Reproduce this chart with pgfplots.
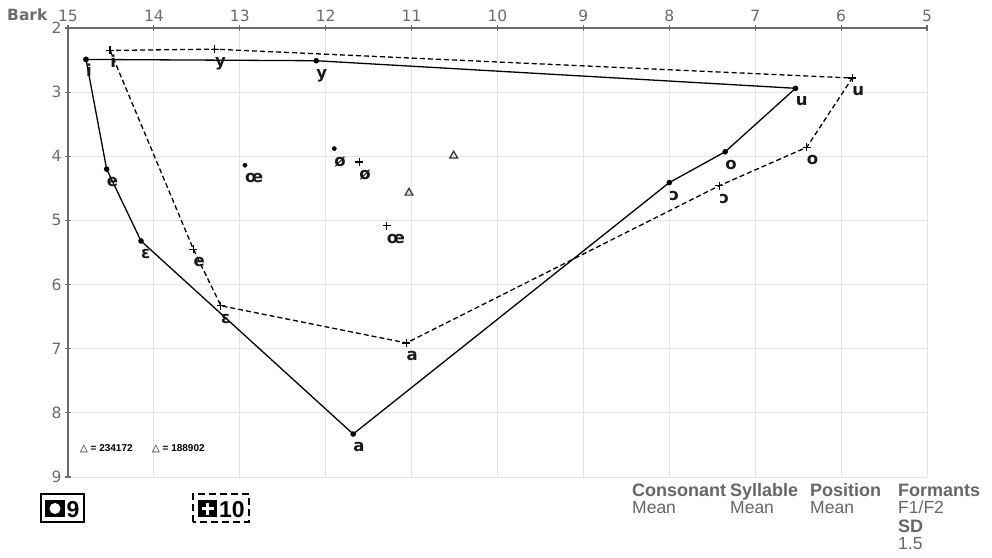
\documentclass[border=0pt]{standalone}
\usepackage{fontspec}
\setmainfont{DejaVu Sans}
\newfontfamily\lib{Liberation Sans}
\usepackage{pgfplots}
\pgfplotsset{compat=1.18}
\definecolor{tickgray}{HTML}{6B6B6B}
\definecolor{txtgray}{HTML}{666666}
\definecolor{gridgray}{HTML}{E4E4E4}
\begin{document}
\begin{tikzpicture}[x=1pt,y=1pt]
\useasboundingbox (0,0) rectangle (992,557);
\begin{axis}[
  at={(68pt,80pt)}, anchor=south west,
  scale only axis, width=859pt, height=449pt,
  x dir=reverse, y dir=reverse,
  xmin=5, xmax=15, ymin=2, ymax=9,
  axis x line*=top, axis y line*=left,
  x axis line style={-, tickgray, line width=1.3pt},
  y axis line style={-, tickgray, line width=1.3pt},
  xtick={5,6,...,15}, ytick={2,3,...,9},
  grid=major, major grid style={gridgray, line width=0.8pt},
  tick align=center, major tick length=6pt,
  tick style={tickgray, line width=1.2pt},
  /pgf/number format/assume math mode=true,
  ticklabel style={font=\fontsize{15.5}{15.5}\selectfont, text=tickgray},
  clip=false,
]
% series 9 (solid)
\addplot[black, line width=1.3pt, mark=*, mark size=2.1pt] table[x=B, y=F] {
B F
14.79 2.49
14.55 4.20
14.15 5.32
11.68 8.33
8.00 4.41
7.35 3.93
6.53 2.94
12.11 2.51
14.79 2.49
};
\addplot[black, only marks, mark=*, mark size=2.1pt] table[x=B, y=F] {
B F
12.94 4.14
11.90 3.88
};
% series 10 (dashed)
\addplot[black, line width=1.3pt, dash pattern=on 5pt off 3pt, mark=+, mark size=4pt, mark options={solid, line width=1.2pt}] table[x=B, y=F] {
B F
14.51 2.35
13.54 5.45
13.22 6.33
11.06 6.91
7.42 4.46
6.40 3.86
5.87 2.78
13.29 2.33
14.51 2.35
};
\addplot[black, only marks, mark=+, mark size=4pt, mark options={line width=1.2pt}] table[x=B, y=F] {
B F
11.61 4.09
11.29 5.08
};
% triangles
\addplot[only marks, mark=triangle*, mark size=4.5pt, mark options={fill=gray!25, draw=black!80, line width=1.2pt}] table[x=B, y=F] {
B F
10.51 3.99
11.03 4.57
};
% labels
\addplot[draw=none, mark=none, nodes near coords, point meta=explicit symbolic,
  nodes near coords style={anchor=base west, inner sep=0pt, yshift=-17.5pt, font=\bfseries\fontsize{16.5}{16.5}\selectfont, text=black!90}]
  table[x=B, y=F, meta=lab] {
B F lab
14.79 2.49 i
14.55 4.20 e
14.15 5.32 ɛ
11.68 8.33 a
8.00 4.41 ɔ
7.35 3.93 o
6.53 2.94 u
12.11 2.51 y
12.94 4.14 œ
11.90 3.88 ø
14.51 2.35 i
13.54 5.45 e
13.22 6.33 ɛ
11.06 6.91 a
7.42 4.46 ɔ
6.40 3.86 o
5.87 2.78 u
13.29 2.33 y
11.61 4.09 ø
11.29 5.08 œ
};
\end{axis}
% Bark label
\node[anchor=base west, inner sep=0pt, font=\bfseries\fontsize{15.5}{15.5}\selectfont, text=tickgray] at (7,536) {Bark};
% triangle legend
\node[anchor=base west, inner sep=0pt, font=\lib\bfseries\fontsize{10}{10}\selectfont] at (80,106) {{\fontspec{DejaVu Sans}\mdseries △} = 234172};
\node[anchor=base west, inner sep=0pt, font=\lib\bfseries\fontsize{10}{10}\selectfont] at (152,106) {{\fontspec{DejaVu Sans}\mdseries △} = 188902};
% legend box 9
\draw[black, line width=2.2pt] (41,35) rectangle (84,63);
\fill[black] (45,40) rectangle (65,57);
\fill[white] (55,48.5) circle (5.5);
\node[anchor=base west, inner sep=0pt, font=\lib\bfseries\fontsize{23}{23}\selectfont] at (66.5,40) {9};
% legend box 10
\draw[black, line width=2.2pt, dash pattern=on 7pt off 4pt] (193,35) rectangle (249,63);
\fill[black] (198,40) rectangle (217,57);
\draw[white, line width=3pt] (201.5,48.5) -- (213.5,48.5) (207.5,42.5) -- (207.5,54.5);
\node[anchor=base west, inner sep=0pt, font=\lib\bfseries\fontsize{23}{23}\selectfont] at (219,40) {10};
% info text
\begin{scope}[every node/.style={anchor=base west, inner sep=0pt, text=txtgray}]
\node[font=\lib\bfseries\fontsize{18}{18}\selectfont] at (632,61) {Consonant};
\node[font=\lib\bfseries\fontsize{18}{18}\selectfont] at (730,61) {Syllable};
\node[font=\lib\bfseries\fontsize{18}{18}\selectfont] at (810,61) {Position};
\node[font=\lib\bfseries\fontsize{18}{18}\selectfont] at (898,61) {Formants};
\node[font=\lib\fontsize{17.5}{18}\selectfont] at (632,44) {Mean};
\node[font=\lib\fontsize{17.5}{18}\selectfont] at (730,44) {Mean};
\node[font=\lib\fontsize{17.5}{18}\selectfont] at (810,44) {Mean};
\node[font=\lib\fontsize{17.5}{18}\selectfont] at (898,44) {F1/F2};
\node[font=\lib\bfseries\fontsize{18}{18}\selectfont] at (898,25) {SD};
\node[font=\lib\fontsize{17.5}{18}\selectfont] at (898,8) {1.5};
\end{scope}
\end{tikzpicture}
\end{document}
